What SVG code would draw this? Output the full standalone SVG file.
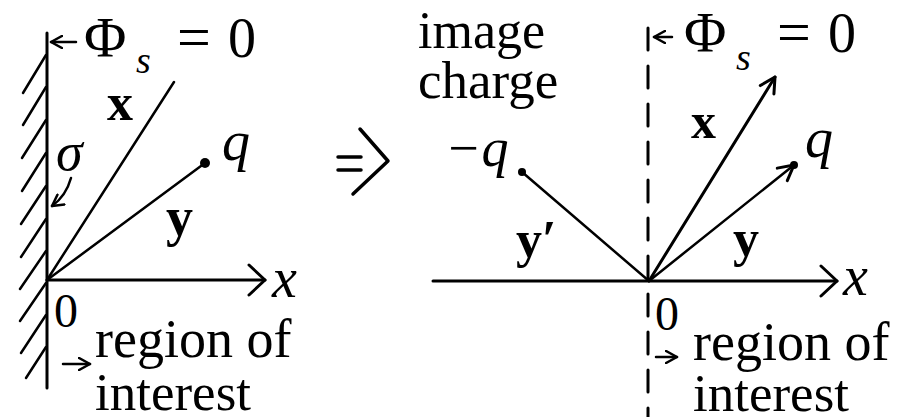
<svg xmlns="http://www.w3.org/2000/svg" width="897" height="417" viewBox="0 0 897 417">
<defs>
<style>
.t{font-family:"Liberation Serif","Times New Roman",serif;fill:#000}
.i{font-style:italic}
.b{font-weight:bold}
.ln{stroke:#000;fill:none;stroke-linecap:round;stroke-linejoin:round}
</style>
<marker id="open" markerWidth="14" markerHeight="14" refX="12" refY="7" orient="auto" markerUnits="userSpaceOnUse">
<path d="M1,1 L12,7 L1,13" fill="none" stroke="#000" stroke-width="2.5" stroke-linecap="round" stroke-linejoin="round"/>
</marker>
<marker id="big" markerWidth="22" markerHeight="34" refX="19" refY="17" orient="auto" markerUnits="userSpaceOnUse">
<path d="M3,2 L19,17 L3,32" fill="none" stroke="#000" stroke-width="3" stroke-linecap="round" stroke-linejoin="round"/>
</marker>
<marker id="arw" markerWidth="20" markerHeight="20" refX="17" refY="10" orient="auto" markerUnits="userSpaceOnUse">
<path d="M2,2 L17,10 L2,18" fill="none" stroke="#000" stroke-width="3" stroke-linecap="round" stroke-linejoin="round"/>
</marker>
</defs>
<rect width="897" height="417" fill="#fff"/>

<g id="left-panel">
<g id="wall">
<line class="ln" x1="47" y1="33" x2="47" y2="388" stroke-width="3"/>
<g class="ln" stroke-width="2.5">
<line x1="46" y1="55" x2="23" y2="93"/>
<line x1="46" y1="87" x2="23" y2="125"/>
<line x1="46" y1="120" x2="22" y2="158"/>
<line x1="46" y1="153" x2="22" y2="191"/>
<line x1="46" y1="186" x2="21" y2="224"/>
<line x1="46" y1="219" x2="21" y2="257"/>
<line x1="46" y1="251" x2="20" y2="289"/>
<line x1="46" y1="283" x2="20" y2="321"/>
<line x1="46" y1="315" x2="21" y2="353"/>
<line x1="46" y1="347" x2="26" y2="378"/>
</g>
</g>
<g id="left-labels">
<text class="t" x="84" y="57" font-size="58">Φ</text>
<text class="t i" x="136" y="73" font-size="38">s</text>
<text class="t" x="177" y="57" font-size="60">=</text>
<text class="t" x="228" y="57" font-size="56">0</text>
<text class="t b" x="107" y="120" font-size="52">x</text>
<text class="t i" x="56" y="170" font-size="54">σ</text>
<text class="t i" x="222" y="160" font-size="56">q</text>
<text class="t b" x="166" y="235" font-size="54">y</text>
<text class="t i" x="272" y="297" font-size="56">x</text>
<text class="t" x="54" y="327" font-size="48">0</text>
<text class="t" x="95" y="357" font-size="54">region of</text>
<text class="t" x="95" y="410" font-size="53">interest</text>
</g>
<circle id="q-left" cx="205" cy="163" r="5" fill="#000"/>
</g>

<g id="middle">
<line class="ln" x1="338" y1="157" x2="361" y2="157" stroke-width="3.5"/>
<line class="ln" x1="338" y1="170" x2="361" y2="170" stroke-width="3.5"/>
<path class="ln" d="M360,129 L388,161 L353,194" stroke-width="3.5"/>
<text class="t" x="418" y="48" font-size="52">image</text>
<text class="t" x="418" y="98" font-size="53">charge</text>
<text class="t i" x="445" y="166" font-size="54">−q</text>
</g>

<g id="right-panel">
<line id="mirror-plane" class="ln" x1="648" y1="28" x2="648" y2="417" stroke-width="3" stroke-dasharray="22 16" stroke-linecap="butt"/>
<text class="t" x="684" y="52" font-size="58">Φ</text>
<text class="t i" x="736" y="70" font-size="38">s</text>
<text class="t" x="777" y="52" font-size="60">=</text>
<text class="t" x="828" y="52" font-size="56">0</text>
<text class="t b" x="691" y="138" font-size="50">x</text>
<text class="t i" x="805" y="157" font-size="56">q</text>
<text class="t b" x="733" y="256" font-size="52">y</text>
<text class="t b" x="516" y="257" font-size="52">y′</text>
<text class="t i" x="843" y="295" font-size="56">x</text>
<text class="t" x="655" y="330" font-size="48">0</text>
<text class="t" x="693" y="360" font-size="54">region of</text>
<text class="t" x="693" y="411" font-size="53">interest</text>
<circle id="q-right" cx="794" cy="165" r="4" fill="#000"/>
<circle id="q-image" cx="522" cy="172" r="4" fill="#000"/>
</g>

<g id="connectors">
<line class="ln" x1="47" y1="280" x2="265" y2="280" stroke-width="3" marker-end="url(#big)"/>
<line class="ln" x1="47" y1="280" x2="174" y2="82" stroke-width="2.5"/>
<line class="ln" x1="47" y1="280" x2="205" y2="163" stroke-width="2.5"/>
<line class="ln" x1="76" y1="42" x2="51" y2="42" stroke-width="2.5" marker-end="url(#open)"/>
<path class="ln" d="M71,178 Q66,196 52,206" stroke-width="2.5" marker-end="url(#open)"/>
<line class="ln" x1="63" y1="364" x2="90" y2="364" stroke-width="2.5" marker-end="url(#open)"/>

<line class="ln" x1="433" y1="281" x2="837" y2="281" stroke-width="3" marker-end="url(#big)"/>
<line class="ln" x1="649" y1="281" x2="775" y2="77" stroke-width="3" marker-end="url(#arw)"/>
<line class="ln" x1="649" y1="281" x2="794" y2="165" stroke-width="2.5" marker-end="url(#arw)"/>
<line class="ln" x1="649" y1="281" x2="522" y2="172" stroke-width="2.5"/>
<line class="ln" x1="672" y1="37" x2="654" y2="37" stroke-width="2.5" marker-end="url(#open)"/>
<line class="ln" x1="656" y1="357" x2="677" y2="357" stroke-width="2.5" marker-end="url(#open)"/>
</g>
</svg>
